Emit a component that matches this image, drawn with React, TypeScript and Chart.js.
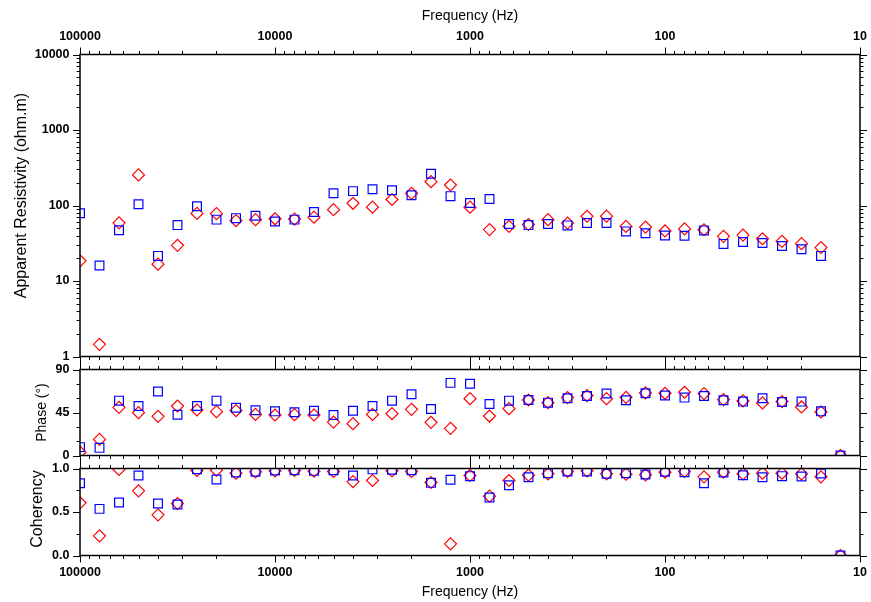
import React, { useEffect, useRef } from "react";
import { Chart, registerables } from "chart.js";

Chart.register(...registerables);

// ---- data ----
const freqs = [
  100000, 79433, 63096, 50119, 39811, 31623, 25119, 19953, 15849, 12589,
  10000, 7943, 6310, 5012, 3981, 3162, 2512, 1995, 1585, 1259,
  1000, 794.3, 631.0, 501.2, 398.1, 316.2, 251.2, 199.5, 158.5, 125.9,
  100, 79.43, 63.10, 50.12, 39.81, 31.62, 25.12, 19.95, 15.85, 12.59,
];

const rhoBlue = [
  79, 16, 47, 104, 21.5, 55, 98, 65, 68, 73,
  61.5, 65, 82, 145, 155, 164, 159, 137, 264, 133,
  108, 122, 57, 55, 57, 54.5, 58.5, 58.5, 45.4, 43,
  40, 39.8, 46.8, 31, 32.8, 31.9, 29, 26.3, 21.5, null,
];
const rhoRed = [
  18.5, 1.45, 59, 254, 16.7, 29.7, 78.5, 78, 63, 65,
  66.7, 66, 70, 88, 107, 95, 120, 145, 207, 187,
  95, 48, 53, 56, 65, 58.5, 72, 72.3, 52.8, 51.8,
  46, 49, 47.7, 39, 40.6, 36.3, 33.5, 31.2, 27.7, null,
];

const phaseBlue = [
  8.75, 8, 57.4, 51.8, 66.9, 42.7, 51.8, 57.4, 50, 47.3,
  46.2, 45.2, 46.9, 42.4, 46.9, 51.8, 57.4, 64.1, 48.7, 76,
  75, 53.9, 57.4, 58.1, 55.3, 59.9, 62.3, 64.8, 57.8, 65.1,
  62.7, 60.6, 62.3, 57.8, 56.4, 59.9, 56, 56.4, 46.2, 0,
];
const phaseRed = [
  3.5, 16.8, 50.4, 44.8, 41, 51.8, 47.6, 45.9, 46.9, 43,
  42.4, 42.7, 42.4, 35, 33.3, 43, 43.8, 48.3, 34.7, 28.4,
  59.5, 41.3, 49, 58.1, 55.3, 60.6, 62.7, 59.5, 60.9, 65.5,
  65.1, 66.2, 64.8, 58.5, 57.1, 55, 56.4, 50.8, 45.5, 0,
];

const cohBlue = [
  0.831, 0.536, 0.609, 0.92, 0.598, 0.586, 0.992, 0.874, 0.954, 0.962,
  0.977, 0.98, 0.973, 0.98, 0.92, 0.99, 0.985, 0.98, 0.835, 0.87,
  0.912, 0.667, 0.808, 0.9, 0.946, 0.966, 0.966, 0.939, 0.946, 0.931,
  0.962, 0.958, 0.831, 0.954, 0.923, 0.9, 0.912, 0.908, 0.942, 0,
];
const cohRed = [
  0.605, 0.226, 0.989, 0.743, 0.467, 0.598, 0.977, 0.98, 0.946, 0.962,
  0.973, 0.977, 0.969, 0.966, 0.85, 0.862, 0.973, 0.966, 0.839, 0.134,
  0.92, 0.682, 0.862, 0.923, 0.939, 0.966, 0.973, 0.939, 0.935, 0.927,
  0.958, 0.966, 0.904, 0.958, 0.939, 0.946, 0.946, 0.939, 0.904, 0,
];

// axis ticks
const freqDecades = [10, 100, 1000, 10000, 100000];
const rhoDecades = [1, 10, 100, 1000, 10000];
const phaseMajor = [0, 45, 90];
const phaseMinor = [15, 30, 60, 75];
const cohMajor = [0, 0.5, 1];
const cohMinor = [0.25, 0.75];

// ---- layout ----
const W = 871;
const H = 602;
const LEFT = 80;
const RIGHT = 860;
const FONT = "'Liberation Sans', Arial, Helvetica, sans-serif";
const BLUE = "#0000ff";
const RED = "#ff0000";

function logMinor(decades: number[]) {
  const out: { v: number; major: boolean }[] = [];
  decades.forEach((d, i) => {
    out.push({ v: d, major: true });
    if (i < decades.length - 1) for (let k = 2; k <= 9; k++) out.push({ v: d * k, major: false });
  });
  return out;
}

const xTicks = logMinor(freqDecades);

function isPow10(v: number) {
  const l = Math.log10(v);
  return Math.abs(l - Math.round(l)) < 1e-6;
}

type SideTitle = { text: string; x: number; dy: number; size: number } | null;

function makeFrame(id: string, yTicks: { v: number; major: boolean }[], side: SideTitle) {
  return {
    id,
    afterDraw(chart: any) {
      const { ctx, chartArea: a, scales } = chart;
      const xs = scales.x;
      const ys = scales.y;
      ctx.save();
      ctx.strokeStyle = "#000";
      ctx.lineWidth = 1;
      ctx.beginPath();
      for (const t of xTicks) {
        const px = Math.round(xs.getPixelForValue(t.v)) + 0.5;
        const len = t.major ? 7 : 3.5;
        ctx.moveTo(px, a.top);
        ctx.lineTo(px, a.top - len);
        ctx.moveTo(px, a.bottom);
        ctx.lineTo(px, a.bottom + len);
      }
      for (const t of yTicks) {
        const py = Math.round(ys.getPixelForValue(t.v)) + 0.5;
        const len = t.major ? 7 : 3.5;
        ctx.moveTo(a.left, py);
        ctx.lineTo(a.left - len, py);
        ctx.moveTo(a.right, py);
        ctx.lineTo(a.right + len, py);
      }
      ctx.stroke();
      ctx.lineWidth = 1.5;
      ctx.strokeRect(a.left, a.top, a.right - a.left, a.bottom - a.top);
      if (side) {
        ctx.translate(side.x, (a.top + a.bottom) / 2 + side.dy);
        ctx.rotate(-Math.PI / 2);
        ctx.fillStyle = "#000";
        ctx.font = `normal ${side.size}px ${FONT}`;
        ctx.textAlign = "center";
        ctx.textBaseline = "middle";
        ctx.fillText(side.text, 0, 0);
      }
      ctx.restore();
    },
  };
}

function pts(ys: (number | null)[]) {
  return freqs.map((f, i) => ({ x: f, y: ys[i] }));
}

function datasets(blue: (number | null)[], red: (number | null)[]) {
  return [
    {
      label: "blue",
      data: pts(blue),
      pointStyle: "rect",
      radius: 6.2,
      borderColor: BLUE,
      backgroundColor: "rgba(0,0,0,0)",
      borderWidth: 1.2,
      showLine: false,
    },
    {
      label: "red",
      data: pts(red),
      pointStyle: "rectRot",
      radius: 6,
      borderColor: RED,
      backgroundColor: "rgba(0,0,0,0)",
      borderWidth: 1.2,
      showLine: false,
    },
  ];
}

const tickFont = { family: FONT, size: 12.5, weight: "bold" as const };
const titleFont = { family: FONT, size: 14, weight: "normal" as const };

function noSidePad(s: any) {
  s.paddingLeft = 0;
  s.paddingRight = 0;
}

function xScale(extra: any) {
  return {
    type: "logarithmic",
    min: 10,
    max: 100000,
    reverse: true,
    grid: { display: false, drawTicks: false },
    border: { display: false },
    ticks: {
      autoSkip: false,
      maxRotation: 0,
      color: "#000",
      font: tickFont,
      padding: 10,
      callback: (v: number) => (isPow10(v) ? String(Math.round(v)) : ""),
    },
    ...extra,
  };
}

function yBase(extra: any) {
  return {
    grid: { display: false, drawTicks: false },
    border: { display: false },
    afterFit: (s: any) => {
      s.width = LEFT;
    },
    ...extra,
  };
}

function makeConfig(kind: number): any {
  const common = {
    animation: false,
    responsive: false,
    devicePixelRatio: 1,
    events: [],
    plugins: { legend: { display: false }, tooltip: { enabled: false } },
  };
  if (kind === 0) {
    return {
      type: "scatter",
      data: { datasets: datasets(rhoBlue, rhoRed) },
      options: {
        ...common,
        layout: { padding: { left: 0, right: W - RIGHT, top: 0, bottom: H - 356.5 } },
        scales: {
          x: xScale({ display: false }),
          xTop: xScale({
            position: "top",
            afterFit: (s: any) => {
              s.height = 54.5;
              noSidePad(s);
            },
            title: { display: true, text: "Frequency (Hz)", color: "#000", font: titleFont, padding: { top: 7.6, bottom: 0 } },
          }),
          y: yBase({
            type: "logarithmic",
            min: 1,
            max: 10000,
            ticks: {
              autoSkip: false,
              color: "#000",
              font: tickFont,
              padding: 10.5,
              callback: (v: number) => (isPow10(v) ? String(Math.round(v)) : ""),
            },
          }),
        },
      },
      plugins: [
        makeFrame("frame0", logMinor(rhoDecades), {
          text: "Apparent Resistivity (ohm.m)",
          x: 22,
          dy: -10,
          size: 16,
        }),
      ],
    };
  }
  if (kind === 1) {
    return {
      type: "scatter",
      data: { datasets: datasets(phaseBlue, phaseRed) },
      options: {
        ...common,
        layout: { padding: { left: 0, right: W - RIGHT, top: 369.5, bottom: H - 455.5 } },
        scales: {
          x: xScale({ display: false }),
          y: yBase({
            type: "linear",
            min: 0,
            max: 90,
            ticks: { stepSize: 45, autoSkip: false, color: "#000", font: tickFont, padding: 10.5 },
          }),
        },
      },
      plugins: [
        makeFrame(
          "frame1",
          [...phaseMajor.map((v) => ({ v, major: true })), ...phaseMinor.map((v) => ({ v, major: false }))],
          { text: "Phase (°)", x: 42, dy: 0, size: 14 }
        ),
      ],
    };
  }
  return {
    type: "scatter",
    data: { datasets: datasets(cohBlue, cohRed) },
    options: {
      ...common,
      layout: { padding: { left: 0, right: W - RIGHT, top: 468.5, bottom: 0 } },
      scales: {
        x: xScale({
          position: "bottom",
          afterFit: (s: any) => {
            s.height = H - 555.5;
            noSidePad(s);
          },
          title: { display: true, text: "Frequency (Hz)", color: "#000", font: titleFont, padding: { top: 0, bottom: 1.6 } },
        }),
        y: yBase({
          type: "linear",
          min: 0,
          max: 1,
          ticks: {
            stepSize: 0.5,
            autoSkip: false,
            color: "#000",
            font: tickFont,
            padding: 10.5,
            callback: (v: number) => Number(v).toFixed(1),
          },
        }),
      },
    },
    plugins: [
      makeFrame(
        "frame2",
        [...cohMajor.map((v) => ({ v, major: true })), ...cohMinor.map((v) => ({ v, major: false }))],
        { text: "Coherency", x: 37.5, dy: -3, size: 16 }
      ),
    ],
  };
}

function Panel({ kind }: { kind: number }) {
  const ref = useRef<HTMLCanvasElement | null>(null);
  useEffect(() => {
    if (!ref.current) return;
    const chart = new Chart(ref.current, makeConfig(kind));
    return () => chart.destroy();
  }, [kind]);
  return (
    <canvas
      ref={ref}
      width={W}
      height={H}
      style={{ position: "absolute", left: 0, top: 0, width: W, height: H }}
    />
  );
}

export default function App() {
  return (
    <div style={{ position: "fixed", left: 0, top: 0, width: W, height: H, background: "#fff" }}>
      <Panel kind={0} />
      <Panel kind={1} />
      <Panel kind={2} />
    </div>
  );
}
